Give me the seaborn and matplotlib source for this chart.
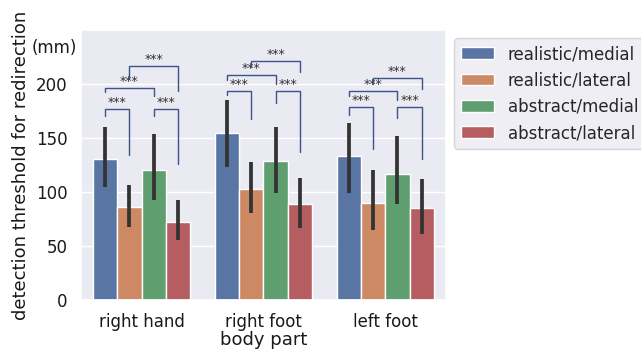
import matplotlib
matplotlib.use("Agg")
import matplotlib.pyplot as plt
import seaborn as sns
import pandas as pd
import numpy as np

body_parts = ["right hand", "right foot", "left foot"]
conditions = ["realistic/medial", "realistic/lateral", "abstract/medial", "abstract/lateral"]

# mean threshold (mm), order follows conditions
mean_right_hand = [131, 86, 120, 72]
mean_right_foot = [155, 103, 129, 89]
mean_left_foot = [133, 90, 117, 85]

# confidence interval bounds
ci_low_right_hand = [105, 68, 93, 56]
ci_high_right_hand = [160, 107, 154, 93]
ci_low_right_foot = [123, 81, 99, 67]
ci_high_right_foot = [185, 128, 160, 113]
ci_low_left_foot = [99, 65, 89, 61]
ci_high_left_foot = [164, 120, 152, 112]

# significance brackets: (cond a, cond b, bar level, left leg end, right leg end)
brackets_right_hand = [(0, 1, 177, 170, 134), (2, 3, 177, 170, 126),
                       (0, 2, 196, 193, 189), (1, 3, 217, 205, 194)]
brackets_right_foot = [(0, 1, 194, 190, 168), (2, 3, 194, 182, 137),
                       (0, 2, 208, 204, 200), (1, 3, 221, 216, 211)]
brackets_left_foot = [(0, 1, 179, 171, 140), (2, 3, 179, 169, 131),
                      (0, 2, 194, 189, 185), (1, 3, 206, 200, 195)]

means = [mean_right_hand, mean_right_foot, mean_left_foot]
ci_low = [ci_low_right_hand, ci_low_right_foot, ci_low_left_foot]
ci_high = [ci_high_right_hand, ci_high_right_foot, ci_high_left_foot]
brackets = [brackets_right_hand, brackets_right_foot, brackets_left_foot]

rows = []
for i, bp in enumerate(body_parts):
    for j, cond in enumerate(conditions):
        rows.append({"body part": bp, "condition": cond, "threshold": means[i][j]})
df = pd.DataFrame(rows)

sns.set_theme(style="darkgrid")
fig = plt.figure(figsize=(6.41, 3.49), dpi=100)
ax = fig.add_axes([0.126, 0.14, 0.57, 0.774])

sns.barplot(data=df, x="body part", y="threshold", hue="condition",
            order=body_parts, hue_order=conditions, errorbar=None, ax=ax)

# error bars and brackets placed on the bars seaborn drew
centers = np.zeros((len(body_parts), len(conditions)))
for j, cont in enumerate(ax.containers):
    for i, patch in enumerate(cont.patches):
        centers[i, j] = patch.get_x() + patch.get_width() / 2
        ax.vlines(centers[i, j], ci_low[i][j], ci_high[i][j], color=".2", lw=2.7, zorder=3)

bracket_color = "#3c5488"
for i in range(len(body_parts)):
    for a, b, top, left_end, right_end in brackets[i]:
        x1, x2 = centers[i, a], centers[i, b]
        ax.plot([x1, x1, x2, x2], [left_end, top, top, right_end],
                color=bracket_color, lw=1, zorder=4)
        ax.text((x1 + x2) / 2, top, "***", ha="center", va="bottom",
                fontsize=9, color="#333333")

ax.set_ylim(0, 250)
ax.set_yticks([0, 50, 100, 150, 200])
ax.set_xlim(-0.5, 2.5)
ax.tick_params(labelsize=12, labelcolor="#1a1a1a")
ax.set_xlabel("body part", fontsize=13, labelpad=0, color="#1a1a1a")
ax.set_ylabel("detection threshold for redirection", fontsize=13, color="#1a1a1a")
ax.annotate("(mm)", xy=(-0.072, 0.935), xycoords="axes fraction",
            ha="center", va="center", fontsize=12, color="#1a1a1a")

ax.legend(loc="upper left", bbox_to_anchor=(1.0, 1.0), fontsize=12, title=None)

fig.savefig("out.png", dpi=100)
